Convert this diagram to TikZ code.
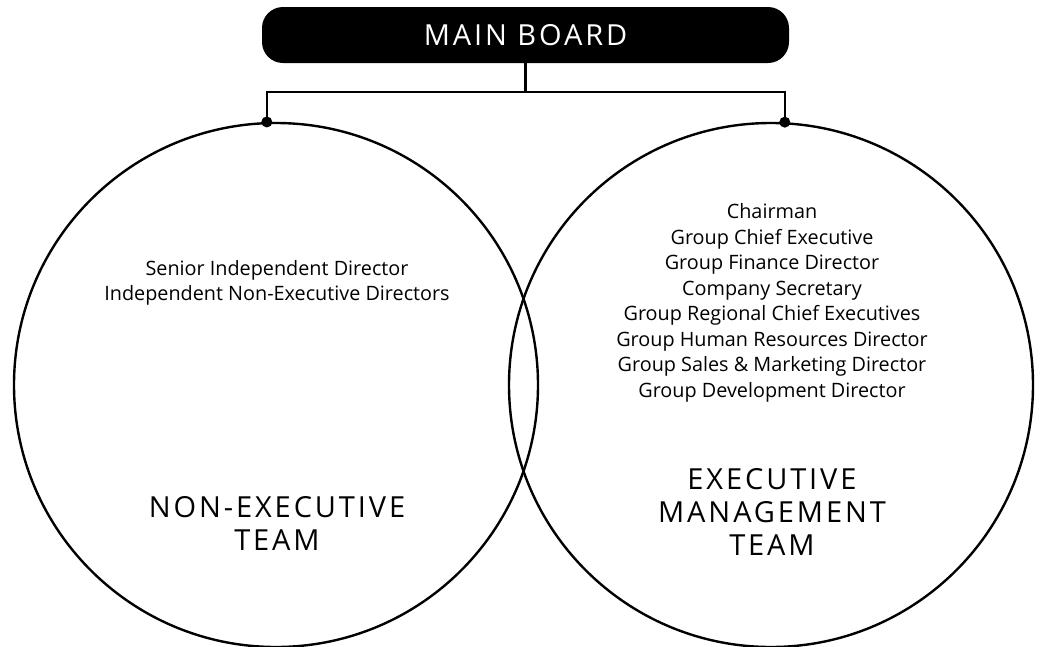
\documentclass[tikz,border=0pt]{standalone}
\usepackage{fontspec}
\setmainfont{Open Sans}
\newfontfamily\capsfont[LetterSpace=10]{Open Sans}
\usetikzlibrary{positioning}

\begin{document}
\begin{tikzpicture}[x=1pt, y=-1pt]
 \tikzstyle{team}=[circle, draw=black, line width=2.4pt,
                   minimum size=524pt, inner sep=0pt]
 \tikzstyle{caps}=[font=\capsfont\fontsize{29}{33}\selectfont, align=center]
 \tikzstyle{roles}=[font=\fontsize{19.8}{25.5}\selectfont, align=center]
 \tikzstyle{joint}=[circle, fill=black, inner sep=0pt, minimum size=11pt]

\useasboundingbox (0,0) rectangle (1042,646);

\node[team] (nonexec) at (276,385) {};
\node[team] (exec) at (771,385) {};

\node[caps, fill=black, text=white, rounded corners=21pt,
      minimum width=527pt, minimum height=56pt] (board) at (525.5,35) {MAIN BOARD};

\node[roles] (nonexecroles) at (277,283) {Senior Independent Director\\
  Independent Non-Executive Directors};
\node[caps] (nonexecname) at (277,523) {NON-EXECUTIVE\\TEAM};

\node[roles] (execroles) at (772,303) {Chairman\\Group Chief Executive\\
  Group Finance Director\\Company Secretary\\Group Regional Chief Executives\\
  Group Human Resources Director\\Group Sales \& Marketing Director\\
  Group Development Director};
\node[caps] (execname) at (772,512) {EXECUTIVE\\MANAGEMENT\\TEAM};

\node[joint] (leftdot) at (nonexec.92) {};
\node[joint] (rightdot) at (exec.87.5) {};
\coordinate (split) at (525.5,92);

\draw[line width=2.5pt] (board.south) -- (split);
\draw[line width=2.5pt] (leftdot.center) |- (split) -| (rightdot.center);

\end{tikzpicture}
\end{document}
